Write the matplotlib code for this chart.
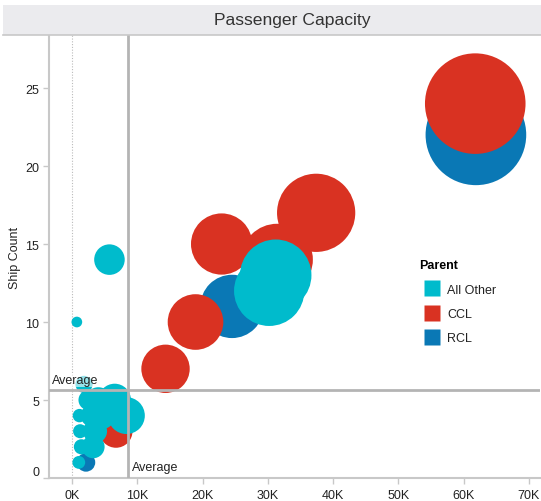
import matplotlib
matplotlib.use("Agg")
import matplotlib.pyplot as plt
from matplotlib.patches import Rectangle
from matplotlib.lines import Line2D
from matplotlib.ticker import FuncFormatter

plt.rcParams['font.family'] = ['Liberation Sans', 'DejaVu Sans']

# ---- data ----
parents = ["All Other", "CCL", "RCL"]
colors = {"All Other": "#00BBCC", "CCL": "#D93222", "RCL": "#0A78B5"}

other_capacity = [31200, 30200, 5700, 700, 1800, 2500, 4000, 6500, 8300, 4500, 3000, 1100,
                  3500, 1200, 3200, 1400, 1000]
other_ships    = [13, 12, 14, 10, 6, 5, 5, 5, 4, 4, 4, 4,
                  3, 3, 2, 2, 1]

ccl_capacity = [61800, 37400, 22900, 31400, 18900, 14300, 6700]
ccl_ships    = [24, 17, 15, 14, 10, 7, 3]

rcl_capacity = [61900, 24500, 2100]
rcl_ships    = [22, 11, 1]

avg_capacity = 8540
avg_ships = 5.64

x_ticks = [0, 10000, 20000, 30000, 40000, 50000, 60000, 70000]
y_ticks = [0, 5, 10, 15, 20, 25]

# ---- figure ----
W, H = 541, 502
fig = plt.figure(figsize=(W / 100, H / 100), dpi=100)
fig.patch.set_facecolor("white")

left_px, right_px, top_px, bot_px = 49, 540, 36, 479
ax = fig.add_axes([left_px / W, 1 - bot_px / H, (right_px - left_px) / W, (bot_px - top_px) / H])
ax.set_xlim(-3570, 71730)
ax.set_ylim(0, 28.4)

# title band
fig.patches.append(Rectangle((3 / W, 1 - 36 / H), (W - 3) / W, 30 / H, transform=fig.transFigure,
                             facecolor="#EBEBEE", edgecolor="none", zorder=0))
fig.lines.append(Line2D([3 / W, 1], [1 - 35.5 / H, 1 - 35.5 / H], transform=fig.transFigure,
                        color="#C8C8C8", lw=1.2))
fig.text((left_px + right_px) / 2 / W - 2 / W, 1 - 21 / H, "Passenger Capacity", ha="center", va="center",
         fontsize=12.6, color="#333333")

# size scale: area proportional to capacity
K = 5243.0 / 61800.0

def sizes(vals):
    return [v * K for v in vals]

groups = [("RCL", rcl_capacity, rcl_ships, 2),
          ("CCL", ccl_capacity, ccl_ships, 3),
          ("All Other", other_capacity, other_ships, 4)]
for name, xs, ys, z in groups:
    ax.scatter(xs, ys, s=sizes(xs), color=colors[name], edgecolors="none", zorder=z)

# zero line (dotted)
ax.axvline(0, color="#BBBBBB", lw=0.8, ls=(0, (1, 1.5)), zorder=1)

# average reference lines
ax.axvline(avg_capacity, color="#B4B4B4", lw=2, zorder=5)
ax.axhline(avg_ships, color="#B4B4B4", lw=2, zorder=5)
ax.text(-3100, avg_ships + 0.25, "Average", fontsize=9, color="#222222", ha="left", va="bottom", zorder=6,
        bbox=dict(facecolor="white", alpha=0.6, edgecolor="none", pad=1))
ax.text(avg_capacity + 600, 0.3, "Average", fontsize=9, color="#222222", ha="left", va="bottom", zorder=6)

# axes styling
for sp in ["top", "right"]:
    ax.spines[sp].set_visible(False)
for sp in ["left", "bottom"]:
    ax.spines[sp].set_color("#C8C8C8")
    ax.spines[sp].set_linewidth(1.5)

ax.set_xticks(x_ticks)
ax.set_yticks(y_ticks)
ax.xaxis.set_major_formatter(FuncFormatter(lambda v, p: f"{int(round(v / 1000))}K"))
ax.tick_params(axis="both", colors="#C8C8C8", labelcolor="#222222", labelsize=9, length=4, width=1)
ax.tick_params(axis="x", pad=4)
ax.tick_params(axis="y", pad=3)
ax.get_yticklabels()[0].set_verticalalignment("bottom")
ax.set_ylabel("Ship Count", fontsize=9, color="#222222")
ax.yaxis.set_label_coords(-(49 - 21) / (right_px - left_px), 0.5)

# legend
handles = [Line2D([], [], marker="s", ls="none", markersize=12.2, markerfacecolor=colors[p],
                  markeredgecolor="none", label=p) for p in parents]
leg = fig.legend(handles=handles, title="Parent", loc="upper left",
                 bbox_to_anchor=(414 / W, 1 - 255 / H), frameon=False, fontsize=9,
                 title_fontproperties={"weight": "bold", "size": 9}, alignment="left",
                 handletextpad=0.25, labelspacing=1.0, borderaxespad=0, handlelength=2.0)
for t in leg.get_texts():
    t.set_color("#222222")

fig.savefig("out.png", dpi=100)
